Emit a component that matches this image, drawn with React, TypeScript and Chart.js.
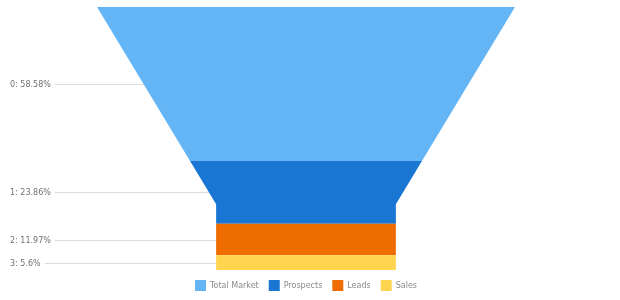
import React, { useEffect, useRef } from "react";
import { Chart, registerables } from "chart.js";

Chart.register(...registerables);

const categories = ["Total Market", "Prospects", "Leads", "Sales"];
const values = [58.58, 23.86, 11.97, 5.6];
const colors = ["#64b5f6", "#1976d2", "#ef6c00", "#ffd54f"];
const tickLabels = ["0: 58.58%", "1: 23.86%", "2: 11.97%", "3: 5.6%"];

const NECK_WIDTH = 0.43; // fraction of full width
const NECK_HEIGHT = 0.25; // fraction of total height
const FONT = "'DejaVu Sans', sans-serif";

const funnelPlugin = {
  id: "funnelPlugin",
  beforeDatasetsDraw(chart: any) {
    const { ctx, scales } = chart;
    const xs = scales.x;
    const ys = scales.y;
    const total = values.reduce((a, b) => a + b, 0);
    const neckY = total * (1 - NECK_HEIGHT);
    const halfW = (v: number) =>
      v >= neckY ? NECK_WIDTH : 1 - (v / neckY) * (1 - NECK_WIDTH);

    // labels + leader lines
    ctx.save();
    ctx.font = `8px ${FONT}`;
    ctx.textBaseline = "middle";
    ctx.textAlign = "left";
    let acc = 0;
    values.forEach((v, i) => {
      const mid = acc + v / 2;
      const py = Math.round(ys.getPixelForValue(mid)) + 0.5;
      const tx = 10;
      const w = ctx.measureText(tickLabels[i]).width;
      ctx.fillStyle = "#707070";
      ctx.fillText(tickLabels[i], tx, py);
      ctx.strokeStyle = "#dddddd";
      ctx.lineWidth = 1;
      ctx.beginPath();
      ctx.moveTo(tx + w + 4, py);
      ctx.lineTo(xs.getPixelForValue(0), py);
      ctx.stroke();
      acc += v;
    });

    // funnel segments
    acc = 0;
    values.forEach((v, i) => {
      const y0 = acc;
      const y1 = acc + v;
      const crosses = y0 < neckY && y1 > neckY;
      const pts: [number, number][] = [];
      pts.push([-halfW(y0), y0], [halfW(y0), y0]);
      if (crosses) pts.push([halfW(neckY), neckY]);
      pts.push([halfW(y1), y1], [-halfW(y1), y1]);
      if (crosses) pts.push([-halfW(neckY), neckY]);
      ctx.beginPath();
      pts.forEach(([x, y], k) => {
        const px = xs.getPixelForValue(x);
        const py = ys.getPixelForValue(y);
        if (k === 0) ctx.moveTo(px, py);
        else ctx.lineTo(px, py);
      });
      ctx.closePath();
      ctx.fillStyle = colors[i];
      ctx.fill();
      acc = y1;
    });
    ctx.restore();
  },
};

export default function App() {
  const ref = useRef<HTMLCanvasElement>(null);
  useEffect(() => {
    const total = values.reduce((a, b) => a + b, 0);
    const chart = new Chart(ref.current!, {
      type: "line",
      data: {
        datasets: categories.map((c, i) => ({
          label: c,
          data: [],
          backgroundColor: colors[i],
          borderColor: colors[i],
          borderWidth: 0,
        })),
      },
      options: {
        animation: false,
        responsive: true,
        maintainAspectRatio: false,
        layout: { padding: { left: 97, right: 105, top: 7, bottom: -1 } },
        scales: {
          x: { type: "linear", min: -1, max: 1, display: false },
          y: { type: "linear", min: 0, max: total, reverse: true, display: false },
        },
        plugins: {
          legend: {
            position: "bottom",
            labels: {
              boxWidth: 11,
              boxHeight: 11,
              padding: 10,
              color: "#8a8a8a",
              font: { size: 8, family: FONT },
            },
          },
          tooltip: { enabled: false },
        },
      },
      plugins: [funnelPlugin],
    });
    return () => chart.destroy();
  }, []);
  return (
    <div style={{ position: "fixed", left: 0, top: 0, width: 620, height: 300, background: "#fff" }}>
      <canvas ref={ref} />
    </div>
  );
}
